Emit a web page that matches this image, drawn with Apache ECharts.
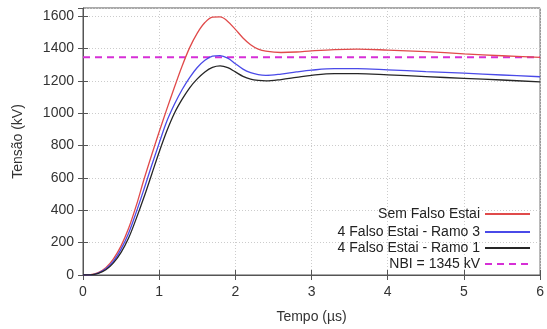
<!DOCTYPE html>
<html><head><meta charset="utf-8">
<script src="https://cdn.jsdelivr.net/npm/echarts@6/dist/echarts.min.js"></script>
<style>html,body{margin:0;padding:0;background:#fff}#c{width:547px;height:329px}</style>
</head><body><div id="c"></div>
<script>
const tempo = [0,0.1,0.2,0.3,0.4,0.5,0.6,0.7,0.8,0.9,1.0,1.1,1.2,1.3,1.4,1.5,1.6,1.7,1.8,1.9,2.0,2.1,2.2,2.3,2.4,2.6,2.8,3.0,3.3,3.6,4.0,4.5,5.0,5.5,6.0];
const semFalsoEstai = [0,2,15,45,100,180,290,430,590,740,885,1025,1160,1290,1405,1495,1560,1593,1595,1567,1518,1465,1423,1396,1383,1375,1378,1385,1393,1396,1390,1380,1367,1355,1345];
const ramo3 = [0,1,12,38,85,160,260,390,530,675,815,950,1055,1145,1220,1282,1327,1352,1356,1340,1306,1272,1250,1238,1234,1242,1255,1266,1275,1275,1268,1257,1247,1236,1225];
const ramo1 = [0,1,10,32,75,140,230,350,480,620,760,890,1000,1085,1157,1212,1255,1283,1292,1281,1255,1228,1211,1203,1200,1208,1221,1234,1244,1244,1237,1226,1215,1205,1193];
const nbiX = [0,6];
const nbiY = [1345,1345];
const names = ['Sem Falso Estai','4 Falso Estai - Ramo 3','4 Falso Estai - Ramo 1','NBI = 1345 kV'];
const colors = ['#e04a4a','#4a4ae8','#262626','#d62fd6'];

const zip = (xs, ys) => xs.map((x,i)=>[x, ys[i]]);
const font = 'Liberation Sans, Arial, sans-serif';
const chart = echarts.init(document.getElementById('c'));
const legendTops = [207, 225, 241, 257];
chart.setOption({
  animation:false,
  grid:{left:83,right:2,top:8,bottom:51,show:true,borderColor:'#555',borderWidth:1},
  xAxis:[{type:'value',min:0,max:6,interval:1,
    name:'Tempo (µs)',nameLocation:'middle',nameGap:35,
    nameTextStyle:{fontFamily:font,fontSize:14,color:'#333'},
    axisLine:{show:true,lineStyle:{color:'#555'}},
    axisTick:{inside:true,length:5,lineStyle:{color:'#555'}},
    axisLabel:{fontFamily:font,fontSize:14,color:'#333',margin:10},
    splitLine:{show:true,lineStyle:{color:'#ccc',type:[1,2]}}},
   {type:'value',position:'top',min:0,max:6,interval:1,
    axisLine:{show:false},axisTick:{inside:true,length:5,lineStyle:{color:'#555'}},
    axisLabel:{show:false},splitLine:{show:false}}],
  yAxis:[{type:'value',min:0,max:1650,interval:200,
    name:'Tensão (kV)',nameLocation:'middle',nameGap:58,
    nameTextStyle:{fontFamily:font,fontSize:14,color:'#333'},
    axisLine:{show:true,lineStyle:{color:'#555'}},
    axisTick:{inside:true,length:5,lineStyle:{color:'#555'}},
    axisLabel:{fontFamily:font,fontSize:14,color:'#333',margin:9,showMaxLabel:false,formatter:v=>String(v)},
    splitLine:{show:true,lineStyle:{color:'#ccc',type:[1,2]}}},
   {type:'value',position:'right',min:0,max:1650,interval:200,
    axisLine:{show:false},axisTick:{inside:true,length:5,lineStyle:{color:'#555'}},
    axisLabel:{show:false},splitLine:{show:false}}],
  legend: names.map((n,i)=>({data:[n],orient:'vertical',right:16,top:legendTops[i],
    align:'right',itemWidth:45,itemHeight:10,itemGap:0,padding:0,
    itemStyle:{opacity:0},
    textStyle:{fontFamily:font,fontSize:14,color:'#222'}})),
  series:[
    {name:names[0],type:'line',data:zip(tempo,semFalsoEstai),smooth:0.35,symbol:'none',lineStyle:{color:colors[0],width:1.3},itemStyle:{color:colors[0]},z:3},
    {name:names[1],type:'line',data:zip(tempo,ramo3),smooth:0.35,symbol:'none',lineStyle:{color:colors[1],width:1.3},itemStyle:{color:colors[1]},z:3},
    {name:names[2],type:'line',data:zip(tempo,ramo1),smooth:0.35,symbol:'none',lineStyle:{color:colors[2],width:1.3},itemStyle:{color:colors[2]},z:3},
    {name:names[3],type:'line',data:zip(nbiX,nbiY),symbol:'none',lineStyle:{color:colors[3],width:2,type:[7,5]},itemStyle:{color:colors[3]},z:2}
  ]
});
</script></body></html>
